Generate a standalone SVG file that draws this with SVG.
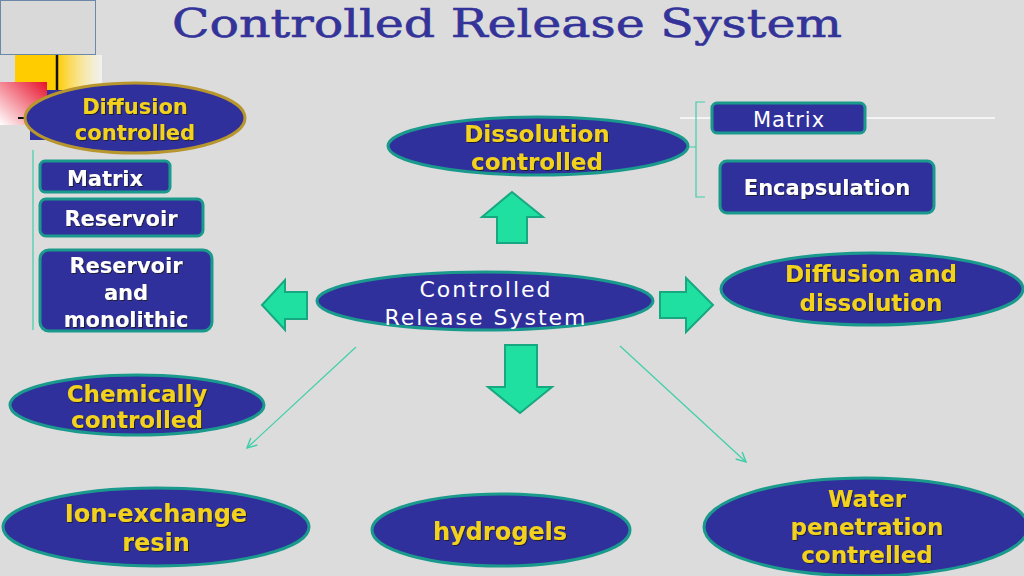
<svg xmlns="http://www.w3.org/2000/svg" width="1024" height="576" viewBox="0 0 1024 576">
<defs>
<linearGradient id="yel" x1="0" y1="0" x2="1" y2="0"><stop offset="0" stop-color="#ffcc00"/><stop offset="1" stop-color="#ffffff" stop-opacity="0.6"/></linearGradient>
<linearGradient id="red" x1="1" y1="0" x2="0" y2="1"><stop offset="0" stop-color="#e8102a"/><stop offset="1" stop-color="#ffffff"/></linearGradient>
<linearGradient id="topline" x1="0" y1="0" x2="1" y2="0"><stop offset="0" stop-color="#333333"/><stop offset="0.6" stop-color="#888888"/><stop offset="1" stop-color="#cccccc"/></linearGradient>
<filter id="sh" x="-10%" y="-20%" width="120%" height="140%"><feDropShadow dx="1" dy="1" stdDeviation="0.6" flood-color="#1a1a1a" flood-opacity="0.8"/></filter>
<marker id="open" viewBox="0 0 10 10" refX="9" refY="5" markerWidth="12" markerHeight="12" markerUnits="userSpaceOnUse" orient="auto"><path d="M1,1 L9,5 L1,9" fill="none" stroke="#3fcfa8" stroke-width="1.2"/></marker>
<style>
.ell{fill:#30309c;stroke:#1a9a8c;stroke-width:3}
.box{fill:#30309c;stroke:#1a9a8c;stroke-width:3}
.y{font-family:"DejaVu Sans",Verdana,sans-serif;font-weight:bold;fill:#f2d21c;text-anchor:middle;filter:url(#sh)}
.w{font-family:"DejaVu Sans",Verdana,sans-serif;font-weight:bold;fill:#ffffff;text-anchor:middle;filter:url(#sh)}
.wr{font-family:"DejaVu Sans",Verdana,sans-serif;fill:#ffffff;text-anchor:middle}
.arr{fill:#1fe0a0;stroke:#16a880;stroke-width:2;stroke-linejoin:miter}
.thin{stroke:#3fcfa8;stroke-width:1.2;fill:none}
</style>
</defs>
<rect width="1024" height="576" fill="#dcdcdc"/>
<!-- decoration -->
<rect x="0.5" y="0.5" width="95" height="54" fill="#d9d9d9" stroke="#6c88a8" stroke-width="1"/>
<rect x="15" y="55" width="42" height="40" fill="#ffcc00"/>
<rect x="57" y="55" width="45" height="40" fill="url(#yel)"/>
<line x1="57" y1="55" x2="57" y2="95" stroke="#111" stroke-width="2.5"/>
<rect x="30" y="90" width="40" height="50" fill="#3333a0"/>
<rect x="0" y="82" width="47" height="43" fill="url(#red)"/>
<line x1="18" y1="118" x2="26" y2="118" stroke="#111" stroke-width="2"/>
<line x1="246" y1="118" x2="700" y2="118" stroke="url(#topline)" stroke-width="2"/>
<line x1="680" y1="118" x2="995" y2="118" stroke="#f4f4f4" stroke-width="2"/>
<!-- title -->
<text x="172" y="37" font-family="'DejaVu Serif','Liberation Serif',serif" font-size="40" fill="#333399" stroke="#333399" stroke-width="0.6" textLength="670" lengthAdjust="spacingAndGlyphs">Controlled Release System</text>
<!-- connectors -->
<g id="connectors">
<line x1="33" y1="150" x2="33" y2="330" stroke="#3fcfa8" stroke-width="1.2"/>
<path class="thin" d="M688,147 L696,147 M705,102 L696,102 L696,197 L705,197"/>
<polygon class="arr" points="512,192 543,217 527,217 527,243 497,243 497,217 482,217"/>
<polygon class="arr" points="520,413 552,387 537,387 537,345 505,345 505,387 488,387"/>
<polygon class="arr" points="262,305 285,280 285,292 307,292 307,319 285,319 285,330"/>
<polygon class="arr" points="713,305 686,278 686,292 660,292 660,318 686,318 686,332"/>
<line class="thin" x1="356" y1="347" x2="247" y2="448" marker-end="url(#open)"/>
<line class="thin" x1="620" y1="346" x2="746" y2="462" marker-end="url(#open)"/>
</g>
<!-- nodes -->
<g id="n-diffusion-controlled">
<ellipse cx="135" cy="118" rx="110" ry="35" fill="#30309c" stroke="#b8962e" stroke-width="3"/>
<text class="y" x="135" y="114" font-size="21">Diffusion</text>
<text class="y" x="135" y="140" font-size="21">controlled</text>
</g>
<g id="n-matrix-left">
<rect class="box" x="40" y="161" width="130" height="31" rx="5"/>
<text class="w" x="105" y="186" font-size="21">Matrix</text>
</g>
<g id="n-reservoir">
<rect class="box" x="40" y="199" width="163" height="37" rx="6"/>
<text class="w" x="121" y="226" font-size="21">Reservoir</text>
</g>
<g id="n-reservoir-monolithic">
<rect class="box" x="40" y="250" width="172" height="81" rx="9"/>
<text class="w" x="126" y="273" font-size="21">Reservoir</text>
<text class="w" x="126" y="300" font-size="21">and</text>
<text class="w" x="126" y="327" font-size="21">monolithic</text>
</g>
<g id="n-dissolution">
<ellipse class="ell" cx="538" cy="146" rx="150" ry="29"/>
<text class="y" x="537" y="142" font-size="23">Dissolution</text>
<text class="y" x="537" y="170" font-size="23">controlled</text>
</g>
<g id="n-matrix-right">
<rect class="box" x="712" y="103" width="153" height="30" rx="5"/>
<text class="wr" x="789" y="127" font-size="21" letter-spacing="1">Matrix</text>
</g>
<g id="n-encapsulation">
<rect class="box" x="720" y="161" width="214" height="52" rx="7"/>
<text class="w" x="827" y="195" font-size="21">Encapsulation</text>
</g>
<g id="n-center">
<ellipse class="ell" cx="485" cy="301" rx="168" ry="29"/>
<text class="wr" x="486" y="297" font-size="22" letter-spacing="2">Controlled</text>
<text class="wr" x="486" y="325" font-size="22" letter-spacing="2">Release System</text>
</g>
<g id="n-diffusion-dissolution">
<ellipse class="ell" cx="872" cy="289" rx="151" ry="36"/>
<text class="y" x="871" y="282" font-size="23">Diffusion and</text>
<text class="y" x="871" y="311" font-size="23">dissolution</text>
</g>
<g id="n-chemically">
<ellipse class="ell" cx="137" cy="405" rx="127" ry="30"/>
<text class="y" x="137" y="402" font-size="23">Chemically</text>
<text class="y" x="137" y="428" font-size="23">controlled</text>
</g>
<g id="n-ion-exchange">
<ellipse class="ell" cx="156" cy="527" rx="153" ry="39"/>
<text class="y" x="156" y="522" font-size="24">Ion-exchange</text>
<text class="y" x="156" y="551" font-size="24">resin</text>
</g>
<g id="n-hydrogels">
<ellipse class="ell" cx="501" cy="530" rx="129" ry="36"/>
<text class="y" x="500" y="540" font-size="24">hydrogels</text>
</g>
<g id="n-water">
<ellipse class="ell" cx="866" cy="527" rx="162" ry="49"/>
<text class="y" x="867" y="507" font-size="23">Water</text>
<text class="y" x="867" y="535" font-size="23">penetration</text>
<text class="y" x="867" y="563" font-size="23">contrelled</text>
</g>
</svg>
